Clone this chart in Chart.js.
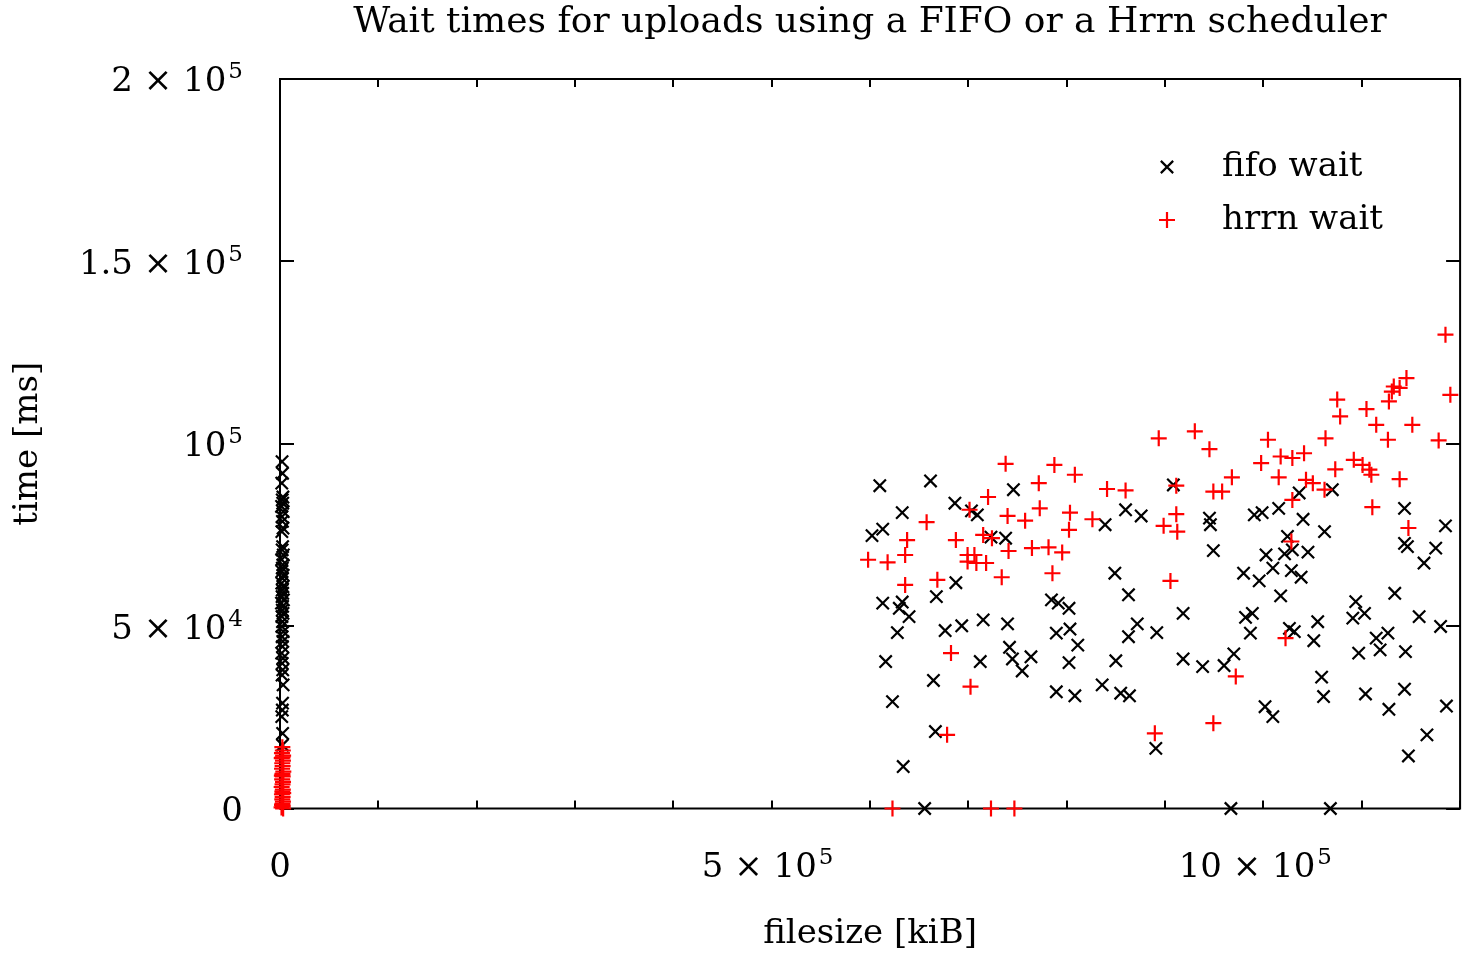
<!DOCTYPE html>
<html>
<head>
<meta charset="utf-8">
<title>Wait times for uploads</title>
<script src="https://cdn.jsdelivr.net/npm/chart.js@4.4.1/dist/chart.umd.min.js"></script>
<style>
  html, body { margin: 0; padding: 0; background: #fff; }
  #wrap { width: 1471px; height: 963px; }
</style>
</head>
<body>
<div id="wrap"><canvas id="chart" width="1471" height="963"></canvas></div>
<script>
// ---- data (filesize in kiB, wait in ms) ----
const fifoSize = [
  // small uploads, close to 0 kiB
  2100, 2600, 1800, 3000, 2300, 2800, 1600, 3300, 2000, 2500, 3100, 1900, 2700, 2200, 3400, 1700,
  2900, 2400, 2000, 3200, 2600, 1800, 3000, 2300, 2800, 2100, 3500, 1500, 2700, 2400, 3100, 2000,
  2600, 1900, 3300, 2200, 2900, 2500, 1700, 3000, 2300, 2800, 2100, 3200, 2600, 2400, 1800, 2700, 2500,
  // big uploads
  615000, 667000, 638000, 692000, 709000, 715000, 752000, 607000, 618000, 729000, 744000, 693000,
  618000, 638000, 635000, 645000, 673000, 633000, 682000, 699000, 721000, 746000, 791000, 796000,
  621000, 670000, 718000, 748000, 751000, 761000, 770000, 796000, 628000, 672000, 639000, 661000,
  916000, 846000, 867000, 883000, 953000, 954000, 957000, 999000, 1007000, 856000, 870000, 988000,
  1004000, 1011000, 798000, 809000, 926000, 990000, 997000, 995000, 810000, 818000, 870000, 879000,
  899000, 809000, 857000, 926000, 946000, 968000, 978000, 815000, 843000, 862000, 871000, 1010000,
  898000, 975000, 1024000, 1045000, 1079000, 1049000, 1071000, 1153000, 1195000, 1033000, 1030000, 1038000,
  1054000, 1018000, 1037000, 1047000, 1153000, 1156000, 1185000, 1173000, 1026000, 1103000, 1100000, 1112000,
  1143000, 1168000, 1190000, 1035000, 1040000, 1064000, 1060000, 1106000, 1124000, 1136000, 1128000, 1154000,
  1068000, 1070000, 1113000, 1153000, 1137000, 1196000, 1018000, 1176000, 1157000, 1077000
];
const fifoWait = [
  95100, 91900, 89200, 85400, 84600, 83700, 82800, 81400, 80000, 78700, 76900, 75900, 71800, 70900, 69500, 68200,
  66800, 65900, 65000, 64000, 63100, 61800, 60800, 59900, 59000, 58100, 57200, 56300, 55400, 54400, 53500, 52600,
  51200, 49900, 48500, 47100, 45800, 44400, 42600, 41200, 39800, 38000, 36600, 33900, 28900, 27000, 25200, 20600, 17400,
  88500, 89800, 81100, 83700, 81600, 80500, 87400, 74800, 76600, 74400, 74100, 61900,
  56300, 56600, 54900, 52600, 58100, 48200, 48800, 50100, 51700, 50600, 57200, 48100,
  40300, 35100, 40300, 44200, 41000, 37700, 41600, 32000, 29300, 21100, 11500, 0,
  88700, 77800, 81900, 80200, 79600, 77800, 70700, 80500, 81100, 64500, 58600, 64500,
  62400, 69500, 56300, 54900, 53500, 52400, 53500, 48100, 49200, 44800, 47100, 50600,
  48200, 40000, 40500, 41000, 38900, 39200, 42400, 30900, 33900, 31600, 30900, 27900,
  16500, 0, 82300, 86500, 87400, 79300, 75900, 82300, 77500, 74600, 69800, 70900,
  70300, 65900, 65200, 63400, 72700, 71800, 71400, 67300, 58300, 56700, 52200, 53500,
  59000, 52600, 49900, 49400, 48500, 51200, 46000, 42600, 46700, 48100, 43500, 43000,
  36000, 30700, 31400, 32700, 27200, 28100, 25200, 20200, 14400, 0
];
const hrrnSize = [
  // small uploads
  2400, 2900, 2000, 3200, 2600, 1800, 3000, 2300, 2700, 2100, 3400, 2500, 1900, 2800, 2200, 3100,
  2600, 1700, 2900, 2400, 3300, 2000, 2700, 2300, 3000, 2500, 2100, 2800, 1600, 3200,
  // big uploads
  744000, 794000, 778000, 726000, 779000, 707000, 746000, 764000, 663000, 643000, 693000, 721000,
  730000, 747000, 771000, 788000, 641000, 603000, 623000, 705000, 712000, 705000, 714000, 724000,
  792000, 641000, 674000, 740000, 688000, 708000, 684000, 628000, 729000, 753000,
  815000, 901000, 938000, 953000, 1013000, 1006000, 976000, 848000, 867000, 919000, 957000, 966000,
  810000, 833000, 809000, 919000, 906000, 920000, 802000, 913000, 980000, 897000, 957000,
  1195000, 1200000, 1155000, 1142000, 1140000, 1137000, 1148000, 1084000, 1087000, 1114000, 1124000, 1136000,
  1161000, 1188000, 1072000, 1026000, 1038000, 1050000, 1024000, 1082000, 1101000, 1110000, 1117000, 1119000,
  1148000, 1052000, 1059000, 1071000, 1038000, 1120000, 1157000, 1037000, 1031000
];
const hrrnWait = [
  16800, 15900, 15200, 14500, 14000, 13800, 13100, 12400, 11600, 10900, 10100, 9500, 9000, 8800, 8000, 7300,
  6600, 5900, 5200, 4600, 4200, 3900, 3200, 2500, 1900, 1300, 1000, 700, 300, 0,
  94500, 94200, 89200, 85400, 82300, 81900, 80200, 78900, 78500, 73600, 73600, 75000,
  74100, 70600, 71400, 71600, 69500, 68200, 67500, 69500, 69500, 67700, 67300, 67300,
  64500, 61300, 62700, 63400, 42600, 33400, 20200, 0, 0, 0,
  91500, 101500, 103400, 98500, 101100, 94700, 90800, 87600, 87200, 88500, 86900, 86900,
  81100, 79300, 76400, 80700, 77500, 75900, 70200, 62400, 36200, 20600, 23400,
  129900, 113400, 118000, 115700, 114300, 111600, 115300, 112100, 107500, 109500, 105200, 101100,
  105200, 100900, 101500, 96500, 96100, 97400, 90800, 93000, 95600, 94200, 92900, 91500,
  90300, 90100, 89200, 87400, 84600, 82600, 76900, 73200, 46700
];

// ---- tick labels: mantissa text + exponent (written as a superscript) ----
const xLabelValues = [0, 500000, 1000000];
const xLabelTexts = ['0', '5 × 10', '10 × 10'];
const xLabelExps = ['', '5', '5'];
const yLabelValues = [0, 50000, 100000, 150000, 200000];
const yLabelTexts = ['0', '5 × 10', '10', '1.5 × 10', '2 × 10'];
const yLabelExps = ['', '4', '5', '5', '5'];

const FONT = 'DejaVu Serif';
const FS = 34;   // normal text
const ES = 23;   // exponent

const toPoints = (xs, ys) => xs.map((x, i) => ({ x, y: ys[i] }));

// draw "base^exp"; align = 'right' | 'center', y = vertical middle of the digits
function drawSci(ctx, base, exp, x, y, align) {
  ctx.font = `${FS}px "${FONT}"`;
  const wb = ctx.measureText(base).width;
  ctx.font = `${ES}px "${FONT}"`;
  const we = exp ? ctx.measureText(exp).width + 2 : 0;
  const w = wb + we;
  const x0 = align === 'right' ? x - w : x - w / 2;
  const baseline = y + 12.4;
  ctx.textAlign = 'left';
  ctx.textBaseline = 'alphabetic';
  ctx.font = `${FS}px "${FONT}"`;
  ctx.fillText(base, x0, baseline);
  if (exp) {
    ctx.font = `${ES}px "${FONT}"`;
    ctx.fillText(exp, x0 + wb + 2, baseline - 13);
  }
}

// gnuplot style frame: box + inward ticks mirrored on all sides, plus labels
const framePlugin = {
  id: 'frame',
  beforeDatasetsDraw(chart) {
    const { ctx, chartArea: a, scales: { x, y } } = chart;
    ctx.save();
    ctx.strokeStyle = '#000';
    ctx.lineWidth = 2;
    ctx.beginPath();
    x.ticks.forEach(t => {
      const px = Math.round(x.getPixelForValue(t.value));
      const len = Math.round(t.value) % 500000 === 0 ? 14 : 8;
      ctx.moveTo(px, a.bottom); ctx.lineTo(px, a.bottom - len);
      ctx.moveTo(px, a.top); ctx.lineTo(px, a.top + len);
    });
    y.ticks.forEach(t => {
      const py = Math.round(y.getPixelForValue(t.value));
      ctx.moveTo(a.left, py); ctx.lineTo(a.left + 14, py);
      ctx.moveTo(a.right, py); ctx.lineTo(a.right - 14, py);
    });
    ctx.stroke();
    ctx.strokeRect(a.left, a.top, a.right - a.left, a.bottom - a.top);

    ctx.fillStyle = '#000';
    xLabelValues.forEach((v, i) => drawSci(ctx, xLabelTexts[i], xLabelExps[i], x.getPixelForValue(v), a.bottom + 56, 'center'));
    yLabelValues.forEach((v, i) => drawSci(ctx, yLabelTexts[i], yLabelExps[i], a.left - 37, y.getPixelForValue(v), 'right'));
    ctx.restore();
  },
  afterDraw(chart) {
    const { ctx, chartArea: a } = chart;
    ctx.save();
    ctx.fillStyle = '#000';
    ctx.font = `36px "${FONT}"`;
    ctx.textBaseline = 'middle';
    ctx.textAlign = 'center';
    ctx.fillText('Wait times for uploads using a FIFO or a Hrrn scheduler', (a.left + a.right) / 2, 23);
    // key, top right inside the plot
    ctx.font = `${FS}px "${FONT}"`;
    ctx.textAlign = 'left';
    chart.data.datasets.forEach((ds, i) => {
      const ly = 167 + i * 53;
      ctx.strokeStyle = ds.borderColor;
      ctx.lineWidth = ds.borderWidth;
      Chart.helpers.drawPoint(ctx, { pointStyle: ds.pointStyle, radius: ds.pointRadius, rotation: 0, borderWidth: ds.borderWidth }, 1167, ly);
      ctx.fillStyle = '#000';
      ctx.fillText(ds.label, 1222, ly);
    });
    ctx.restore();
  }
};

new Chart(document.getElementById('chart'), {
  type: 'scatter',
  data: {
    datasets: [
      { label: 'fifo wait', data: toPoints(fifoSize, fifoWait), pointStyle: 'crossRot', pointRadius: 8.7,
        borderColor: '#000000', backgroundColor: '#000000', borderWidth: 2.2, clip: false, order: 1 },
      { label: 'hrrn wait', data: toPoints(hrrnSize, hrrnWait), pointStyle: 'cross', pointRadius: 8,
        borderColor: '#ff0000', backgroundColor: '#ff0000', borderWidth: 2.2, clip: false, order: 0 }
    ]
  },
  options: {
    responsive: false,
    animation: false,
    devicePixelRatio: 1,
    events: [],
    layout: { padding: { top: 79, right: 10, left: 0, bottom: 0 } },
    plugins: { legend: { display: false }, title: { display: false }, tooltip: { enabled: false } },
    scales: {
      x: {
        type: 'linear', min: 0, max: 1210000,
        grid: { display: false, drawTicks: false },
        border: { display: false },
        ticks: { display: false, stepSize: 100000, includeBounds: false, autoSkip: false },
        title: { display: true, text: 'filesize [kiB]', color: '#000', font: { family: FONT, size: FS }, padding: { top: 0, bottom: 8 } },
        afterFit: s => { s.height = 154.5; s.paddingLeft = 0; s.paddingRight = 0; }
      },
      y: {
        type: 'linear', min: 0, max: 200000,
        grid: { display: false, drawTicks: false },
        border: { display: false },
        ticks: { display: false, stepSize: 50000, autoSkip: false },
        title: { display: true, text: 'time [ms]', color: '#000', font: { family: FONT, size: FS }, padding: { top: 8, bottom: 0 } },
        afterFit: s => { s.width = 280; s.paddingTop = 0; s.paddingBottom = 0; }
      }
    }
  },
  plugins: [framePlugin]
});
</script>
</body>
</html>
